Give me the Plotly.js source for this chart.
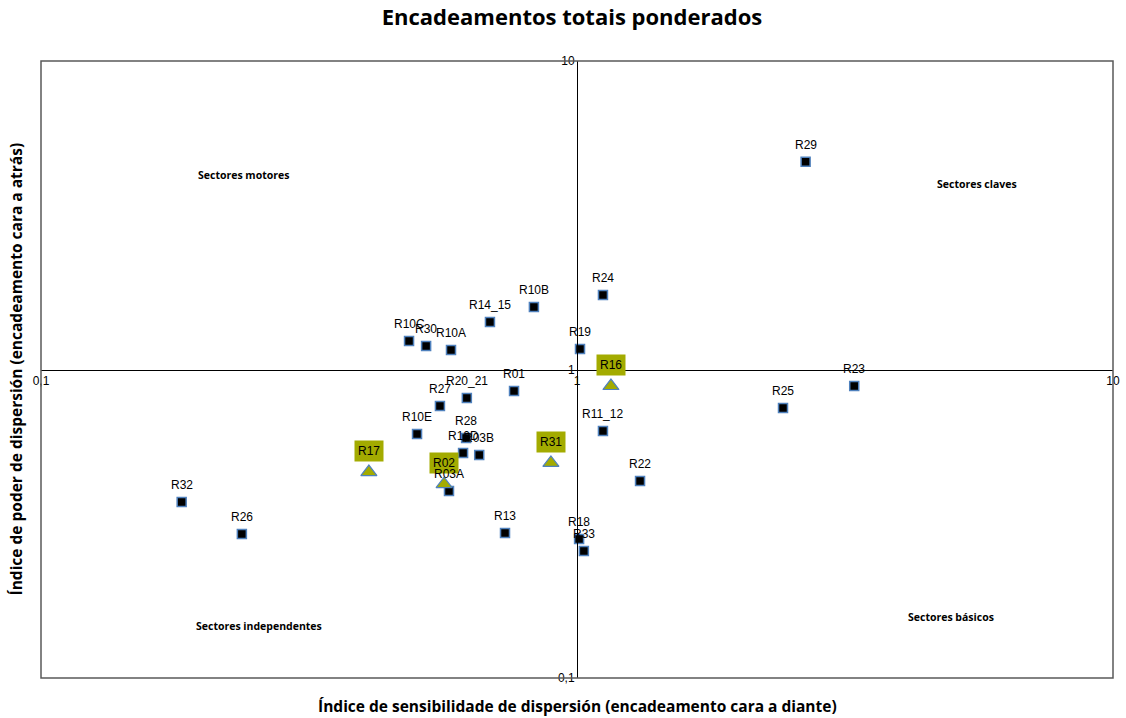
<!DOCTYPE html>
<html>
<head>
<meta charset="utf-8">
<script src="https://cdn.plot.ly/plotly-3.0.1.min.js"></script>
<style>html,body{margin:0;padding:0;background:#fff;}#chart{width:1126px;height:718px;}</style>
</head>
<body>
<div id="chart"></div>
<script>
// Regular sectors (square markers)
const sqLabels = ["R29","R24","R10B","R14_15","R10C","R30","R10A","R19","R23","R01","R20_21","R27","R25","R11_12","R10E","R28","R10D","R03B","R03A","R22","R32","R26","R13","R18","R33"];
const sqX = [2.67,1.118,0.831,0.688,0.486,0.523,0.582,1.013,3.29,0.763,0.623,0.555,2.423,1.118,0.503,0.621,0.613,0.657,0.577,1.311,0.183,0.237,0.734,1.009,1.030];
const sqY = [4.71,1.744,1.594,1.426,1.237,1.192,1.157,1.165,0.884,0.852,0.808,0.761,0.750,0.632,0.618,0.600,0.536,0.528,0.404,0.435,0.372,0.293,0.295,0.282,0.258];

// Highlighted sectors (triangle markers)
const trLabels = ["R16","R17","R02","R31"];
const trX = [1.157,0.409,0.565,0.894];
const trY = [0.884,0.465,0.425,0.498];

const tickVals = [0.1,1,10];
const tickText = ["0,1","1","10"];

const quadLabels = ["Sectores motores","Sectores claves","Sectores independentes","Sectores básicos"];

const olive = "#a3ab00";
const blueEdge = "#4f81bd";

const traces = [
  {x: sqX, y: sqY, type: "scatter", mode: "markers", hoverinfo: "text", text: sqLabels,
   marker: {symbol: "square", size: 9, color: "#000000", line: {color: blueEdge, width: 1.5}}},
  {x: trX, y: trY, type: "scatter", mode: "markers", hoverinfo: "text", text: trLabels,
   marker: {symbol: "triangle-up", size: 14, color: olive, line: {color: blueEdge, width: 1.2}}}
];

const annotations = [];
const labFont = {family: "Liberation Sans, Arial, sans-serif", size: 12, color: "#000"};
trLabels.forEach((t, i) => {
  annotations.push({x: Math.log10(trX[i]), y: Math.log10(trY[i]), xref: "x", yref: "y", text: t,
    xanchor: "center", yanchor: "middle", showarrow: false, yshift: 21,
    font: {family: "Liberation Sans, Arial, sans-serif", size: 12, color: "#000"},
    bgcolor: olive, borderpad: 3});
});
sqLabels.forEach((t, i) => {
  annotations.push({x: Math.log10(sqX[i]), y: Math.log10(sqY[i]), xref: "x", yref: "y", text: t,
    xanchor: "center", yanchor: "middle", showarrow: false, yshift: 17, font: labFont});
});
const quadPos = [[0.189,0.816],[0.873,0.801],[0.203,0.084],[0.849,0.099]];
quadLabels.forEach((t, i) => {
  annotations.push({x: quadPos[i][0], y: quadPos[i][1], xref: "paper", yref: "paper", text: "<b>" + t + "</b>",
    xanchor: "center", yanchor: "middle", showarrow: false,
    font: {family: "Open Sans, sans-serif", size: 10.5, color: "#000"}});
});
annotations.push({x: 0.5, y: 0, xref: "paper", yref: "paper", xanchor: "center", yanchor: "top", yshift: -15,
  text: "<b>Índice de sensibilidade de dispersión (encadeamento cara a diante)</b>", showarrow: false,
  font: {family: "Open Sans, sans-serif", size: 15.5, color: "#000"}});
annotations.push({x: 0, y: 0.5, xref: "paper", yref: "paper", xanchor: "right", yanchor: "middle", xshift: -13, textangle: -90,
  text: "<b>Índice de poder de dispersión (encadeamento cara a atrás)</b>", showarrow: false,
  font: {family: "Open Sans, sans-serif", size: 15.5, color: "#000"}});

const layout = {
  width: 1126, height: 718,
  margin: {l: 41, r: 13, t: 61, b: 40},
  paper_bgcolor: "#fff", plot_bgcolor: "#fff",
  showlegend: false,
  title: {text: "<b>Encadeamentos totais ponderados</b>", x: 0.508, xref: "container", xanchor: "center",
    y: 0.976, yref: "container", yanchor: "middle",
    font: {family: "Open Sans, sans-serif", size: 22, color: "#000"}},
  xaxis: {type: "log", range: [-1, 1], anchor: "free", position: 0.5, showgrid: false, zeroline: false,
    showline: true, linecolor: "#000", linewidth: 1, tickvals: tickVals, ticktext: tickText, ticks: "",
    tickfont: {family: "Liberation Sans, Arial, sans-serif", size: 12, color: "#000"}},
  yaxis: {type: "log", range: [-1, 1], anchor: "free", position: 0.5, showgrid: false, zeroline: false,
    showline: true, linecolor: "#000", linewidth: 1, tickvals: tickVals, ticktext: tickText, ticks: "",
    tickfont: {family: "Liberation Sans, Arial, sans-serif", size: 12, color: "#000"}},
  shapes: [{type: "rect", xref: "paper", yref: "paper", x0: 0, x1: 1, y0: 0, y1: 1,
    line: {color: "#595959", width: 1.5}}],
  annotations: annotations
};

Plotly.newPlot("chart", traces, layout, {displayModeBar: false, staticPlot: true});
</script>
</body>
</html>
